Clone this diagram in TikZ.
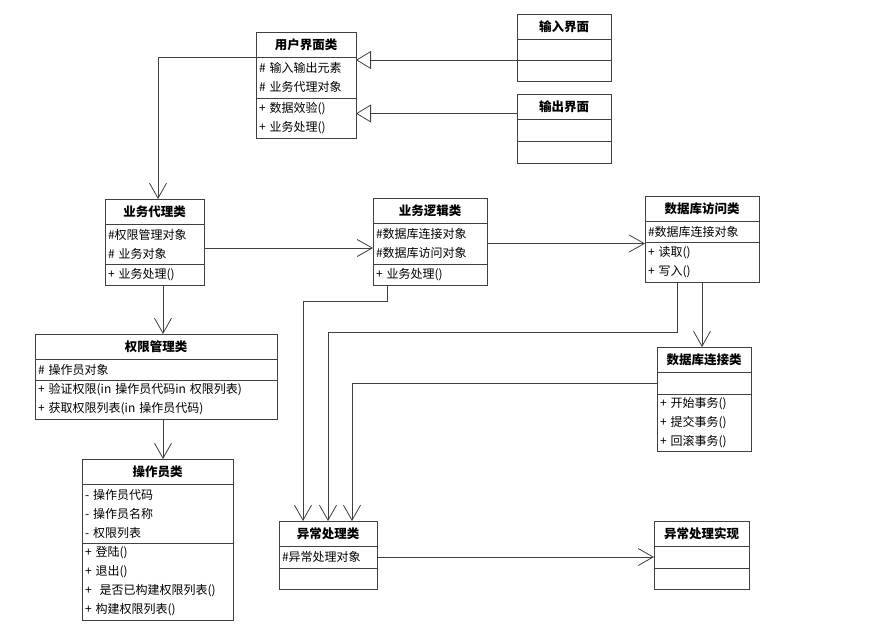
\documentclass[tikz,border=0pt]{standalone}
\usepackage{fontspec}
\setmainfont{Noto Sans CJK SC}
\usetikzlibrary{arrows.meta}
\usetikzlibrary{positioning}

\tikzset{
  cls/.style={draw=black!75,line width=0.8pt,outer sep=0pt,inner xsep=3pt,inner ysep=1pt,
    text width=#1,font=\fontsize{12}{19}\selectfont},
  ctitle/.style={align=center,minimum height=25pt,font=\bfseries\fontsize{12.5}{14}\selectfont},
  cpart/.style={align=left,minimum height=#1},
  assoc/.style={draw=black!75,line width=0.8pt,-{Straight Barb[length=15pt,width=17pt]}},
  inherit/.style={draw=black!75,line width=0.8pt,-{Triangle[open,length=15pt,width=18pt,fill=white]}}
}

\begin{document}
\begin{tikzpicture}[x=1pt,y=-1pt]
  \useasboundingbox (0,0) rectangle (894,625);

  % user interface
  \node[cls=94pt,ctitle,anchor=north west] (ui) at (256,32) {用户界面类};
  \node[cls=94pt,cpart=41pt,below=0pt of ui] (ui-a) {\# 输入输出元素\\\# 业务代理对象};
  \node[cls=94pt,cpart=40pt,below=0pt of ui-a] (ui-m) {+ 数据效验()\\+ 业务处理()};

  \node[cls=88pt,ctitle,anchor=north west] (inp) at (517,14) {输入界面};
  \node[cls=88pt,cpart=21pt,below=0pt of inp] (inp-a) {};
  \node[cls=88pt,cpart=21pt,below=0pt of inp-a] (inp-m) {};

  \node[cls=88pt,ctitle,anchor=north west] (out) at (517,94) {输出界面};
  \node[cls=88pt,cpart=22pt,below=0pt of out] (out-a) {};
  \node[cls=88pt,cpart=22pt,below=0pt of out-a] (out-m) {};

  % business layer
  \node[cls=93pt,ctitle,anchor=north west] (agent) at (105,199) {业务代理类};
  \node[cls=93pt,cpart=40pt,below=0pt of agent] (agent-a) {\#权限管理对象\\\# 业务对象};
  \node[cls=93pt,cpart=21pt,below=0pt of agent-a] (agent-m) {+ 业务处理()};

  \node[cls=108pt,ctitle,anchor=north west] (logic) at (373,198) {业务逻辑类};
  \node[cls=108pt,cpart=41pt,below=0pt of logic] (logic-a) {\#数据库连接对象\\\#数据库访问对象};
  \node[cls=108pt,cpart=21pt,below=0pt of logic-a] (logic-m) {+ 业务处理()};

  \node[cls=108pt,ctitle,anchor=north west] (dao) at (645,196) {数据库访问类};
  \node[cls=108pt,cpart=21pt,below=0pt of dao] (dao-a) {\#数据库连接对象};
  \node[cls=108pt,cpart=40pt,below=0pt of dao-a] (dao-m) {+ 读取()\\+ 写入()};

  % rights and operators
  \node[cls=236pt,ctitle,anchor=north west] (auth) at (35,334) {权限管理类};
  \node[cls=236pt,cpart=21pt,below=0pt of auth] (auth-a) {\# 操作员对象};
  \node[cls=236pt,cpart=39pt,below=0pt of auth-a] (auth-m) {+ 验证权限(in 操作员代码in 权限列表)\\+ 获取权限列表(in 操作员代码)};

  \node[cls=145pt,ctitle,anchor=north west] (oper) at (82,459) {操作员类};
  \node[cls=145pt,cpart=59pt,below=0pt of oper] (oper-a) {- 操作员代码\\- 操作员名称\\- 权限列表};
  \node[cls=145pt,cpart=77pt,below=0pt of oper-a] (oper-m) {+ 登陆()\\+ 退出()\\+ \ 是否已构建权限列表()\\+ 构建权限列表()};

  % database and exceptions
  \node[cls=88pt,ctitle,anchor=north west] (conn) at (657,347) {数据库连接类};
  \node[cls=88pt,cpart=22pt,below=0pt of conn] (conn-a) {};
  \node[cls=88pt,cpart=57pt,below=0pt of conn-a] (conn-m) {+ 开始事务()\\+ 提交事务()\\+ 回滚事务()};

  \node[cls=92pt,ctitle,anchor=north west] (exc) at (279,521) {异常处理类};
  \node[cls=92pt,cpart=22pt,below=0pt of exc] (exc-a) {\#异常处理对象};
  \node[cls=92pt,cpart=21pt,below=0pt of exc-a] (exc-m) {};

  \node[cls=89pt,ctitle,anchor=north west] (impl) at (654,521) {异常处理实现};
  \node[cls=89pt,cpart=22pt,below=0pt of impl] (impl-a) {};
  \node[cls=89pt,cpart=21pt,below=0pt of impl-a] (impl-m) {};

  % connectors
  \coordinate (outin) at ([yshift=-7pt]out.west);
  \coordinate (agentout) at ([yshift=-4pt]agent-a.east);
  \draw[inherit] (inp-a.south west) -- (inp-a.south west -| ui-a.east);
  \draw[inherit] (outin) -- (outin -| ui-m.east);
  \draw[assoc] (ui.south west) -| ([xshift=3.5pt]agent.north);
  \draw[assoc] (agentout) -- (agentout -| logic-a.west);
  \draw[assoc] (logic-a.east) -- (logic-a.east -| dao-a.west);
  \draw[assoc] ([xshift=8.5pt]agent-m.south) -- ([xshift=7pt]auth.north);
  \draw[assoc] ([xshift=7pt]auth-m.south) -- ([xshift=5.5pt]oper.north);
  \draw[assoc] (dao-m.south) -- (dao-m.south |- conn.north);
  \draw[assoc] ([xshift=14pt]logic-m.south west) -- ++(0,16) -| ([xshift=-25pt]exc.north);
  \draw[assoc] ([xshift=-25pt]dao-m.south) -- ++(0,50) -| (exc.north);
  \draw[assoc] (conn-a.west) -| ([xshift=24pt]exc.north);
  \draw[assoc] (exc-a.east) -- (impl-a.west);
\end{tikzpicture}
\end{document}
